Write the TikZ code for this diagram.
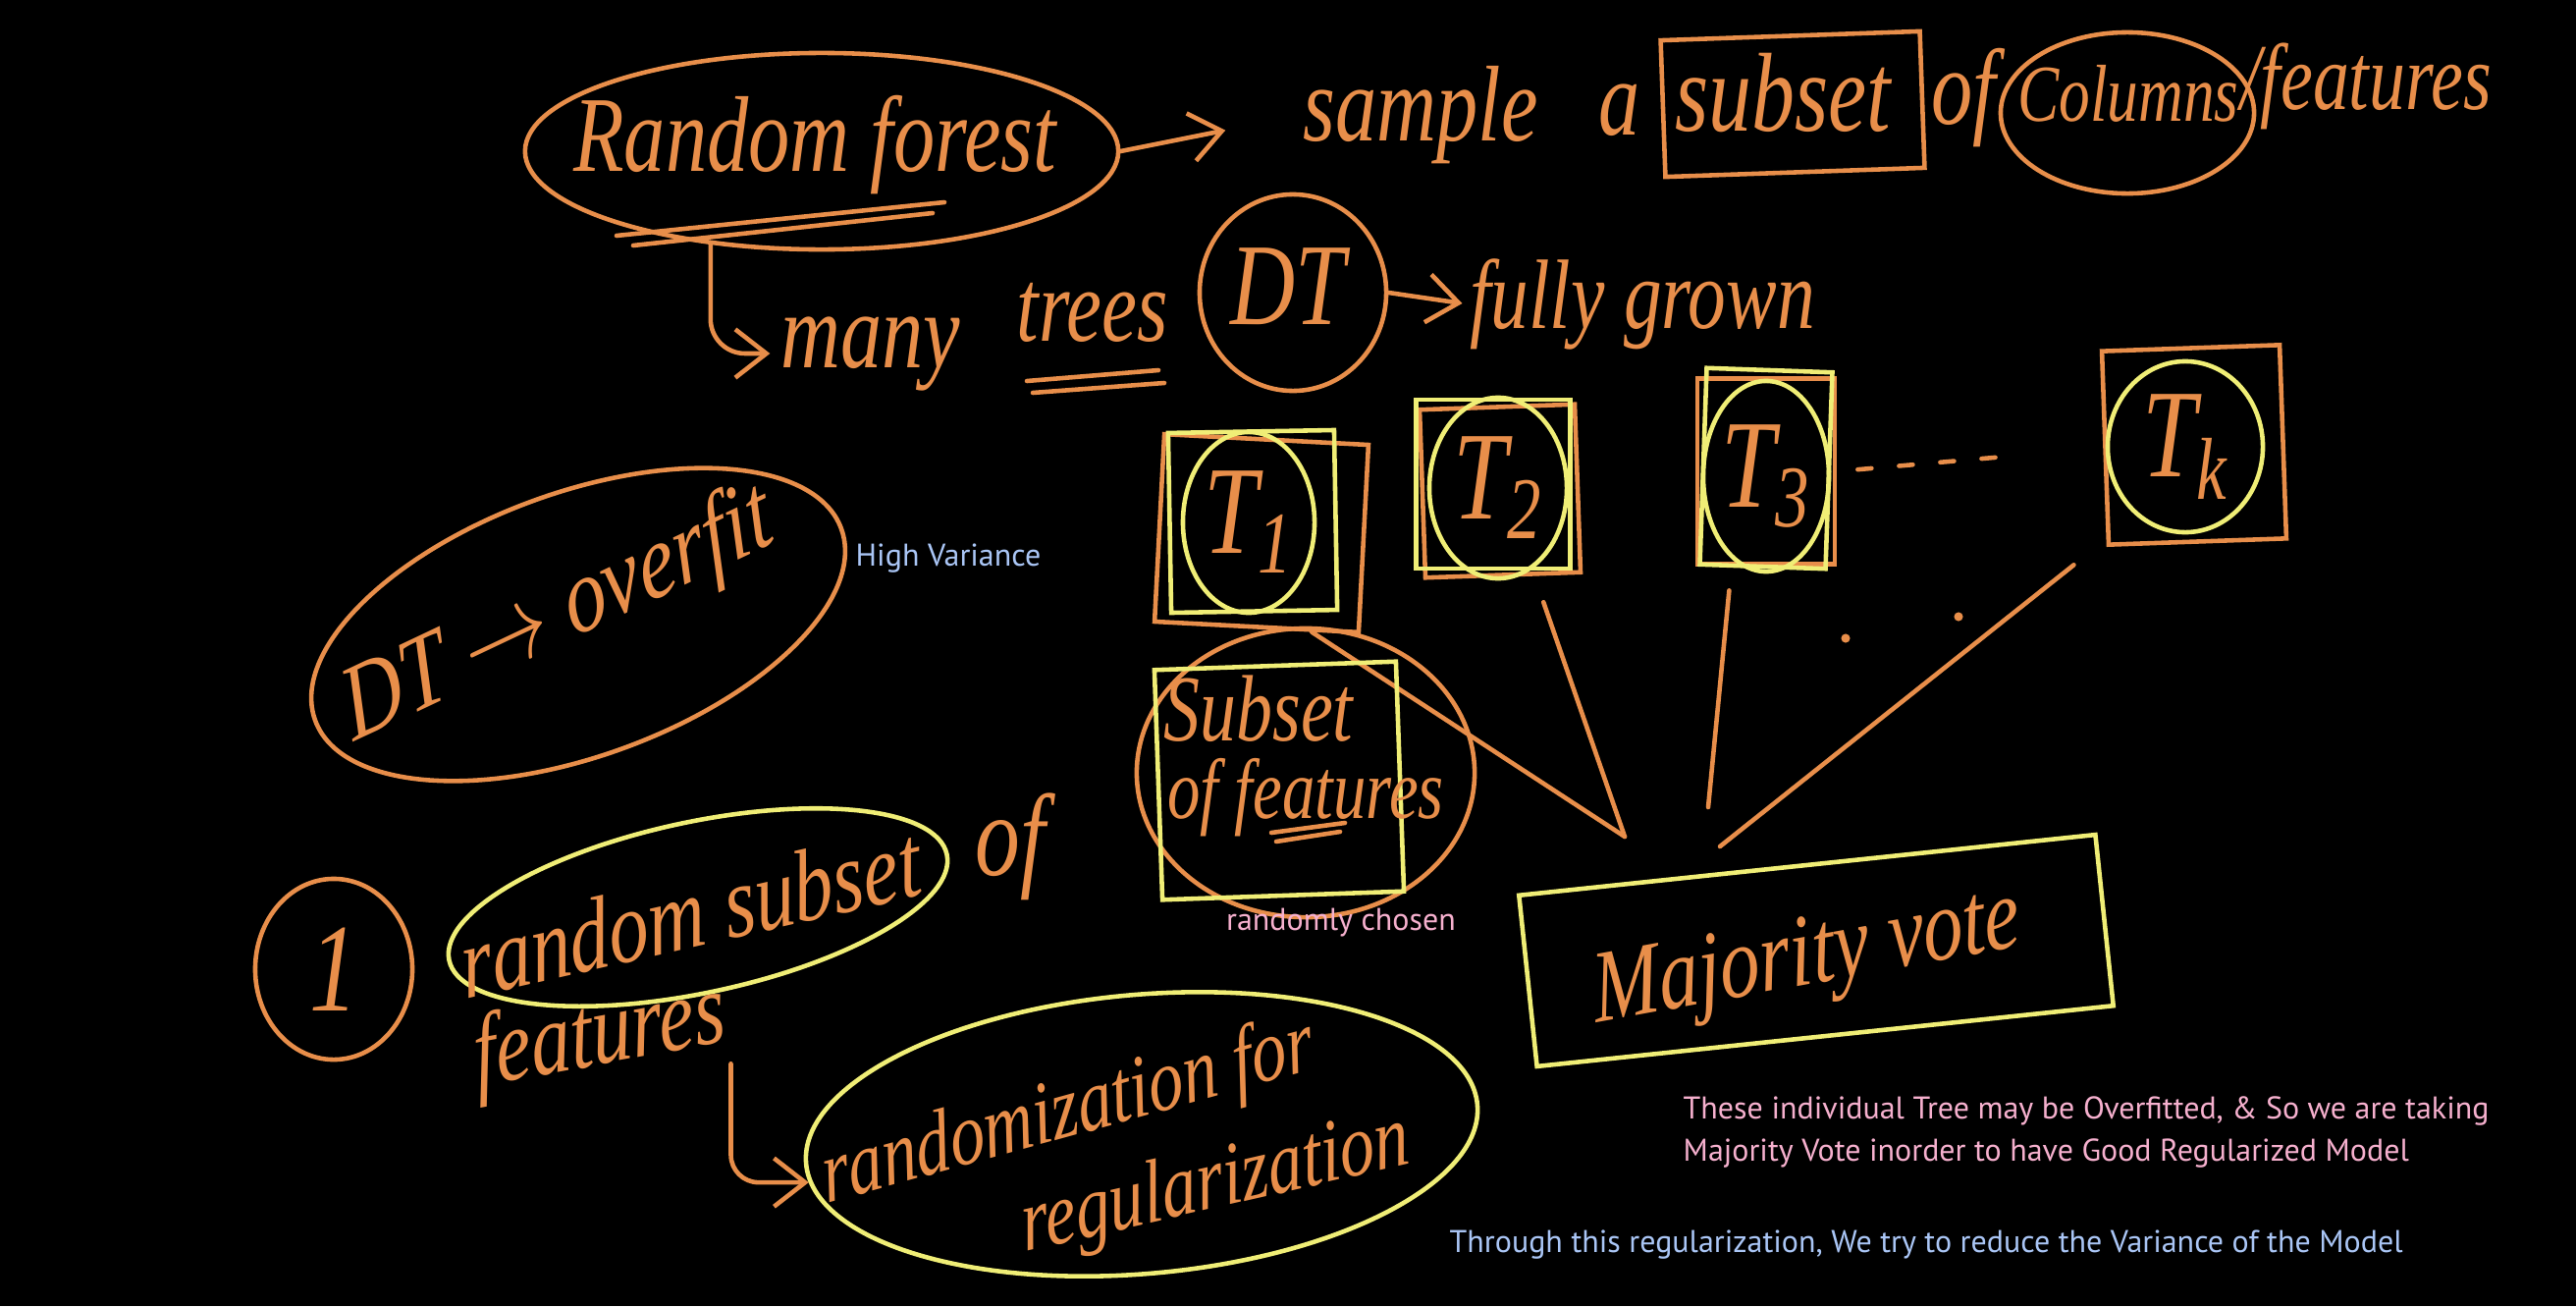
\documentclass[tikz,border=0pt]{standalone}
\usepackage{fontspec}
\setmainfont{PT Sans}
\newfontfamily\handfont{Liberation Serif}
\usetikzlibrary{shapes.geometric,arrows.meta,calc,positioning}
\definecolor{chalkorange}{RGB}{232,142,74}
\definecolor{chalkyellow}{RGB}{240,238,118}
\definecolor{notepink}{RGB}{246,176,206}
\definecolor{noteblue}{RGB}{170,198,246}
\tikzset{
>={Straight Barb[length=9pt,width=14pt]},
  hand/.style={
    text=chalkorange,
    inner sep=0pt,
    yscale=1.3,
    font=\handfont\itshape\fontsize{#1}{#1}\selectfont},
  hand/.default=24,
  ring/.style={ellipse, draw=chalkorange, line width=1.3pt, inner sep=0pt},
  yring/.style={ring, draw=chalkyellow},
  orect/.style={rectangle, draw=chalkorange, line width=1.3pt, inner sep=0pt},
  yrect/.style={orect, draw=chalkyellow},
  stroke/.style={draw=chalkorange, line width=1.3pt, line cap=round, line join=round},
  note/.style={font=\fontsize{9.1}{12}\selectfont, align=left, inner sep=0pt},
}

\begin{document}
\begin{tikzpicture}[x=0.01cm, y=-0.01cm]

	\useasboundingbox (0,0) rectangle (2624,1330);
	\fill[black] (0,0) rectangle (2624,1330);

	% top line
	\node[ring, minimum width=6.04cm, minimum height=2cm] (rf) at (837,154) {};
	\node[hand=24] (rftext) at (830,148) {Random forest};
	\draw[stroke] (628,240) -- (962,206);
	\draw[stroke] (645,250) -- (950,217);
	\node[hand=24] (sample) at (1447,117) {sample};
	\draw[stroke, ->, shorten >=0.8cm] (rf.east) -- (sample.west);
	\node[hand=24] (a) at (1650,112) {a};
	\node[orect, minimum width=2.64cm, minimum height=1.39cm, rotate=2] (subbox) at (1826,106) {};
	\node[hand=25] (sub) at (1816,95) {subset};
	\node[hand=24] (of1) at (2000,100) {of};
	\node[ring, minimum width=2.58cm, minimum height=1.64cm] (col) at (2167,115) {};
	\node[hand=18] (coltext) at (2168,95) {Columns};
	\node[hand=21] (feat1) at (2410,88) {/features};

	\node[hand=24] (many) at (887,360) {many};
	\draw[stroke, ->, rounded corners=10pt, shorten >=3pt] (rf.220) |- (many.west);
	\node[hand=23] (trees) at (1113,318) {trees};
	\draw[stroke] (1046,388) -- (1180,377);
	\draw[stroke] (1052,400) -- (1186,390);
	\node[ring, minimum width=1.9cm, minimum height=2cm] (dt) at (1317,298) {};
	\node[hand=26] (dttext) at (1312,292) {DT};
	\node[hand=22] (grown) at (1673,310) {fully grown};
	\draw[stroke, ->, shorten >=2pt] (dt.east) -- (grown.west);

	% trees
	\node[orect, minimum width=2.08cm, minimum height=1.91cm, rotate=-3] (t1o) at (1285,543) {};
	\node[yrect, minimum width=1.69cm, minimum height=1.83cm, rotate=1] (t1y) at (1276,531) {};
	\node[yring, minimum width=1.34cm, minimum height=1.84cm] (t1) at (1272,532) {};
	\node[hand=28] at (t1) {T\textsubscript{1}};

	\node[orect, minimum width=1.58cm, minimum height=1.71cm, rotate=2] (t2o) at (1528,500) {};
	\node[yrect, minimum width=1.57cm, minimum height=1.72cm] (t2y) at (1521,493) {};
	\node[yring, minimum width=1.4cm, minimum height=1.84cm] (t2) at (1526,497) {};
	\node[hand=28] at (t2) {T\textsubscript{2}};

	\node[orect, minimum width=1.4cm, minimum height=1.89cm] (t3o) at (1799,480) {};
	\node[yrect, minimum width=1.28cm, minimum height=2cm, rotate=-2] (t3y) at (1799,477) {};
	\node[yring, minimum width=1.28cm, minimum height=1.94cm] (t3) at (1799,485) {};
	\node[hand=28] at (t3) {T\textsubscript{3}};

	\node[orect, minimum width=1.81cm, minimum height=1.97cm, rotate=2] (tko) at (2235,453) {};
	\node[yring, minimum width=1.58cm, minimum height=1.74cm] (tk) at (2226,455) {};
	\node[hand=28] at (tk) {T\textsubscript{k}};

	\draw[stroke, dash pattern=on 4pt off 8pt, shorten <=6pt, shorten >=1.1cm] (t3o.east) -- (tko.west);

	% votes
	\node[yrect, minimum width=5.9cm, minimum height=1.75cm, rotate=6] (vote) at (1850,968) {};
	\node[hand=23, rotate=8] (votetext) at (1841,979) {Majority vote};
	\coordinate (vin) at (1655,852);
	\coordinate (vup) at (1740,822);
	\coordinate (vright) at (1752,862);
	\draw[stroke] (t1o.-60) -- (vin);
	\draw[stroke, shorten <=8pt] (t2o.-70) -- (vin);
	\draw[stroke, shorten <=7pt] (t3o.-110) -- (vup);
	\draw[stroke, shorten <=12pt] (tko.-135) -- (vright);
	\fill[chalkorange] (1880,650) circle (1.3pt);
	\fill[chalkorange] (1995,628) circle (1.3pt);

	% left side
	\node[ring, minimum width=5.7cm, minimum height=2.68cm, rotate=20] (ovf) at (589,636) {};
	\node[hand=24, rotate=20] (ovftext) at (569,628) {DT $\rightarrow$ overfit};
	\node[text=noteblue, note] (hv) at (966,569) {High Variance};

	\node[ring, minimum width=1.6cm, minimum height=1.84cm] (one) at (340,987) {};
	\node[hand=28] at (one) {1};
	\node[yring, minimum width=5.18cm, minimum height=1.74cm, rotate=12] (rs) at (711,924) {};
	\node[hand=23, rotate=10] (rstext) at (703,929) {random subset};
	\node[hand=26] (of2) at (1029,862) {of};
	\node[hand=23, rotate=8] (feat2) at (611,1058) {features};

	\node[ring, minimum width=3.44cm, minimum height=2.94cm] (sf) at (1330,787) {};
	\node[yrect, minimum width=2.46cm, minimum height=2.34cm, rotate=2] (sfbox) at (1303,795) {};
	\node[hand=21] (subset2) at (1282,722) {Subset};
	\node[hand=19] (sftext) at (1330,812) {of features};
	\draw[stroke] (1295,848) -- (1370,838);
	\draw[stroke] (1300,857) -- (1365,847);
	\node[text=notepink, note] (chosen) at (1366,940) {randomly chosen};

	\node[yring, minimum width=6.86cm, minimum height=2.84cm, rotate=5] (rz) at (1163,1155) {};
	\node[hand=20, rotate=12] (rnd) at (1088,1135) {randomization for};
	\node[hand=20, rotate=10] (regtext) at (1238,1208) {regularization};
	\draw[stroke, ->, rounded corners=8pt, shorten >=4pt] (feat2.south east) |- (rnd.west);

	% notes
	\node[note, text=notepink, anchor=west] (warn) at (1714,1153) {These individual Tree may be Overfitted, \& So we are taking\\Majority Vote inorder to have Good Regularized Model};
	\node[note, text=noteblue, anchor=west] (through) at (1476,1268) {Through this regularization, We try to reduce the Variance of the Model};

\end{tikzpicture}
\end{document}
